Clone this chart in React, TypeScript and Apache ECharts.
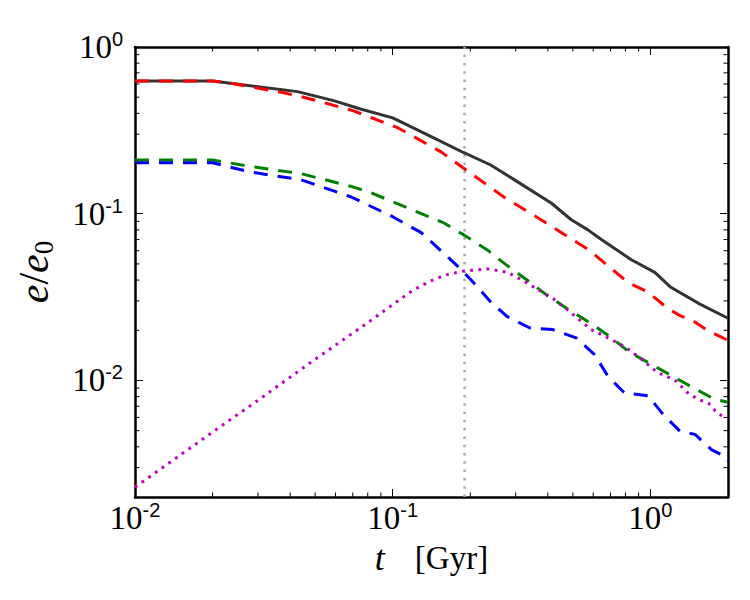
import React, { useEffect, useRef } from "react";
import * as echarts from "echarts";

// Axis ranges (log-log)
const X_MIN = 0.01;
const X_MAX = 2;
const Y_MIN = 0.002;
const Y_MAX = 1;

// Total eccentricity (solid)
const tTotal = [0.01, 0.02, 0.03, 0.0427, 0.059, 0.075, 0.1, 0.141, 0.188, 0.24, 0.3, 0.412, 0.493, 0.572, 0.645, 0.843, 1.04, 1.2, 1.55, 2.0];
const eTotal = [0.625, 0.625, 0.578, 0.54, 0.477, 0.425, 0.376, 0.29, 0.233, 0.196, 0.158, 0.116, 0.092, 0.08, 0.07, 0.053, 0.0445, 0.0362, 0.0288, 0.0236];

// Red dashed component
const tRed = [0.01, 0.02, 0.0234, 0.0288, 0.0366, 0.045, 0.0563, 0.0705, 0.105, 0.154, 0.188, 0.27, 0.387, 0.574, 0.82, 0.973, 1.17, 1.3, 1.45, 1.68, 2.0];
const eRed = [0.625, 0.625, 0.608, 0.572, 0.537, 0.5, 0.456, 0.414, 0.327, 0.235, 0.188, 0.126, 0.0896, 0.061, 0.0386, 0.0341, 0.027, 0.0245, 0.023, 0.0198, 0.0174];

// Green dashed component
const tGreen = [0.01, 0.02, 0.028, 0.044, 0.07, 0.082, 0.1, 0.158, 0.188, 0.232, 0.275, 0.33, 0.394, 0.471, 0.572, 0.695, 0.832, 1.01, 1.22, 1.47, 1.78, 2.0];
const eGreen = [0.21, 0.21, 0.192, 0.174, 0.145, 0.134, 0.118, 0.088, 0.0749, 0.0609, 0.0495, 0.0403, 0.0327, 0.0272, 0.0226, 0.0184, 0.0147, 0.0125, 0.0106, 0.009, 0.0077, 0.0074];

// Blue dashed component
const tBlue = [0.01, 0.02, 0.028, 0.044, 0.069, 0.1, 0.129, 0.176, 0.202, 0.242, 0.279, 0.339, 0.418, 0.515, 0.607, 0.684, 0.794, 0.98, 1.12, 1.3, 1.49, 1.73, 1.96, 2.0];
const eBlue = [0.202, 0.202, 0.178, 0.16, 0.126, 0.096, 0.077, 0.0495, 0.0399, 0.0292, 0.0241, 0.0207, 0.0202, 0.018, 0.0143, 0.0106, 0.0084, 0.0081, 0.00626, 0.00497, 0.00475, 0.00383, 0.00349, 0.0033];

// Magenta dotted component
const tMag = [0.01, 0.02, 0.03, 0.05, 0.08, 0.1, 0.12, 0.14, 0.16, 0.188, 0.234, 0.279, 0.315, 0.366, 0.425, 0.493, 0.589, 0.684, 0.794, 0.923, 1.07, 1.24, 1.4, 1.53, 1.68, 1.83, 1.97, 2.0];
const eMag = [0.00229, 0.0049, 0.0076, 0.0134, 0.0222, 0.0285, 0.0348, 0.0395, 0.0429, 0.0453, 0.0467, 0.0445, 0.0403, 0.0351, 0.0305, 0.0254, 0.0202, 0.018, 0.016, 0.0134, 0.0111, 0.0101, 0.0084, 0.0077, 0.0073, 0.0063, 0.006, 0.006];

// Vertical reference time
const markerT = 0.19;

// Minor tick mantissas and decades
const mantissas = [2, 3, 4, 5, 6, 7, 8, 9];
const xDecades = [0.01, 0.1];
const yDecades = [0.001, 0.01, 0.1];

const SERIF = "'Liberation Serif', serif";
const SUP = "'Liberation Sans', sans-serif";

const pairs = (t: number[], e: number[]) => t.map((v, i) => [v, e[i]]);

const minorTickData: number[][] = [];
xDecades.forEach((d) =>
  mantissas.forEach((m) => {
    const v = m * d;
    if (v > X_MIN && v < X_MAX) minorTickData.push([v, Y_MAX, 0]);
  })
);
yDecades.forEach((d) =>
  mantissas.forEach((m) => {
    const v = m * d;
    if (v > Y_MIN * 1.001 && v < Y_MAX) minorTickData.push([X_MIN, v, 1]);
  })
);

const tickLabel = (v: number) => {
  const lg = Math.log10(v);
  const k = Math.round(lg);
  if (Math.abs(lg - k) > 1e-6) return "";
  return `{b|10}{s|${k}}`;
};

const labelRich = {
  b: { fontFamily: SERIF, fontSize: 33, lineHeight: 36, color: "#000" },
  s: { fontFamily: SUP, fontSize: 20, lineHeight: 20, verticalAlign: "top", color: "#000" },
};

const spine = { show: true, onZero: false, lineStyle: { color: "#000", width: 2.5 } };
const majorTick = { show: true, inside: true, length: 8, lineStyle: { color: "#000", width: 1 } };

export default function App() {
  const ref = useRef<HTMLDivElement>(null);

  useEffect(() => {
    if (!ref.current) return;
    const chart = echarts.init(ref.current, undefined, { renderer: "svg" });

    const option: any = {
      animation: false,
      backgroundColor: "#fff",
      textStyle: { fontFamily: SERIF },
      grid: { left: 135, right: 22, top: 47, bottom: 103 },
      xAxis: [
        {
          type: "log",
          logBase: 10,
          min: X_MIN,
          max: X_MAX,
          position: "bottom",
          axisLine: spine,
          axisTick: majorTick,
          splitLine: { show: false },
          axisLabel: {
            formatter: tickLabel,
            margin: 3,
            fontFamily: SERIF,
            showMinLabel: true,
            showMaxLabel: true,
            rich: labelRich,
          },
          name: "{i|t}{g| }[Gyr]",
          nameLocation: "middle",
          nameGap: 43,
          nameTextStyle: {
            fontFamily: SERIF,
            fontSize: 33,
            color: "#000",
            rich: {
              i: { fontFamily: SERIF, fontStyle: "italic", fontSize: 36, color: "#000" },
              g: { fontSize: 33, width: 30 },
            },
          },
        },
        {
          type: "log",
          logBase: 10,
          min: X_MIN,
          max: X_MAX,
          position: "top",
          axisLine: spine,
          axisTick: majorTick,
          splitLine: { show: false },
          axisLabel: { show: false },
        },
      ],
      yAxis: [
        {
          type: "log",
          logBase: 10,
          min: Y_MIN,
          max: Y_MAX,
          position: "left",
          axisLine: spine,
          axisTick: majorTick,
          splitLine: { show: false },
          axisLabel: {
            formatter: tickLabel,
            margin: 12,
            fontFamily: SERIF,
            showMinLabel: true,
            showMaxLabel: true,
            rich: labelRich,
          },
          name: "{i|e}/{i|e}{sub|0}",
          nameLocation: "middle",
          nameRotate: 90,
          nameGap: 78,
          nameTextStyle: {
            fontFamily: SERIF,
            fontSize: 42,
            color: "#000",
            rich: {
              i: { fontFamily: SERIF, fontStyle: "italic", fontSize: 42, lineHeight: 46, color: "#000" },
              sub: { fontFamily: SERIF, fontSize: 27, lineHeight: 27, verticalAlign: "bottom", color: "#000" },
            },
          },
        },
        {
          type: "log",
          logBase: 10,
          min: Y_MIN,
          max: Y_MAX,
          position: "right",
          axisLine: spine,
          axisTick: majorTick,
          splitLine: { show: false },
          axisLabel: { show: false },
        },
      ],
      series: [
        {
          name: "marker",
          type: "line",
          data: [
            [markerT, Y_MIN],
            [markerT, Y_MAX],
          ],
          symbol: "none",
          lineStyle: { color: "#aaaaaa", width: 2.5, type: [2.5, 5.8] },
          silent: true,
          z: 1,
        },
        {
          name: "total",
          type: "line",
          data: pairs(tTotal, eTotal),
          symbol: "none",
          lineStyle: { color: "#333333", width: 3 },
          z: 2,
        },
        {
          name: "red",
          type: "line",
          data: pairs(tRed, eRed),
          symbol: "none",
          lineStyle: { color: "#ff0000", width: 3, type: [14, 10] },
          z: 3,
        },
        {
          name: "green",
          type: "line",
          data: pairs(tGreen, eGreen),
          symbol: "none",
          lineStyle: { color: "#008000", width: 3, type: [14, 10] },
          z: 3,
        },
        {
          name: "blue",
          type: "line",
          data: pairs(tBlue, eBlue),
          symbol: "none",
          lineStyle: { color: "#0000ff", width: 3, type: [14, 10] },
          z: 3,
        },
        {
          name: "magenta",
          type: "line",
          data: pairs(tMag, eMag),
          symbol: "none",
          lineStyle: { color: "#bf00bf", width: 3, type: [2.8, 5.4] },
          z: 4,
        },
        {
          name: "minorTicks",
          type: "custom",
          silent: true,
          z: 5,
          dimensions: ["x", "y", "kind"],
          encode: { x: 0, y: 1 },
          data: minorTickData,
          renderItem: (_params: any, api: any) => {
            const L = 4.5;
            const kind = api.value(2);
            const style = { stroke: "#000", lineWidth: 1 };
            if (kind === 0) {
              const v = api.value(0);
              const b = api.coord([v, Y_MIN]);
              const t = api.coord([v, Y_MAX]);
              return {
                type: "group",
                children: [
                  { type: "line", shape: { x1: b[0], y1: b[1], x2: b[0], y2: b[1] - L }, style },
                  { type: "line", shape: { x1: t[0], y1: t[1], x2: t[0], y2: t[1] + L }, style },
                ],
              };
            }
            const v = api.value(1);
            const l = api.coord([X_MIN, v]);
            const r = api.coord([X_MAX, v]);
            return {
              type: "group",
              children: [
                { type: "line", shape: { x1: l[0], y1: l[1], x2: l[0] + L, y2: l[1] }, style },
                { type: "line", shape: { x1: r[0], y1: r[1], x2: r[0] - L, y2: r[1] }, style },
              ],
            };
          },
        },
      ],
    };

    chart.setOption(option);
    return () => chart.dispose();
  }, []);

  return (
    <div
      ref={ref}
      style={{ position: "fixed", left: 0, top: 0, width: 750, height: 600, background: "#fff" }}
    />
  );
}
